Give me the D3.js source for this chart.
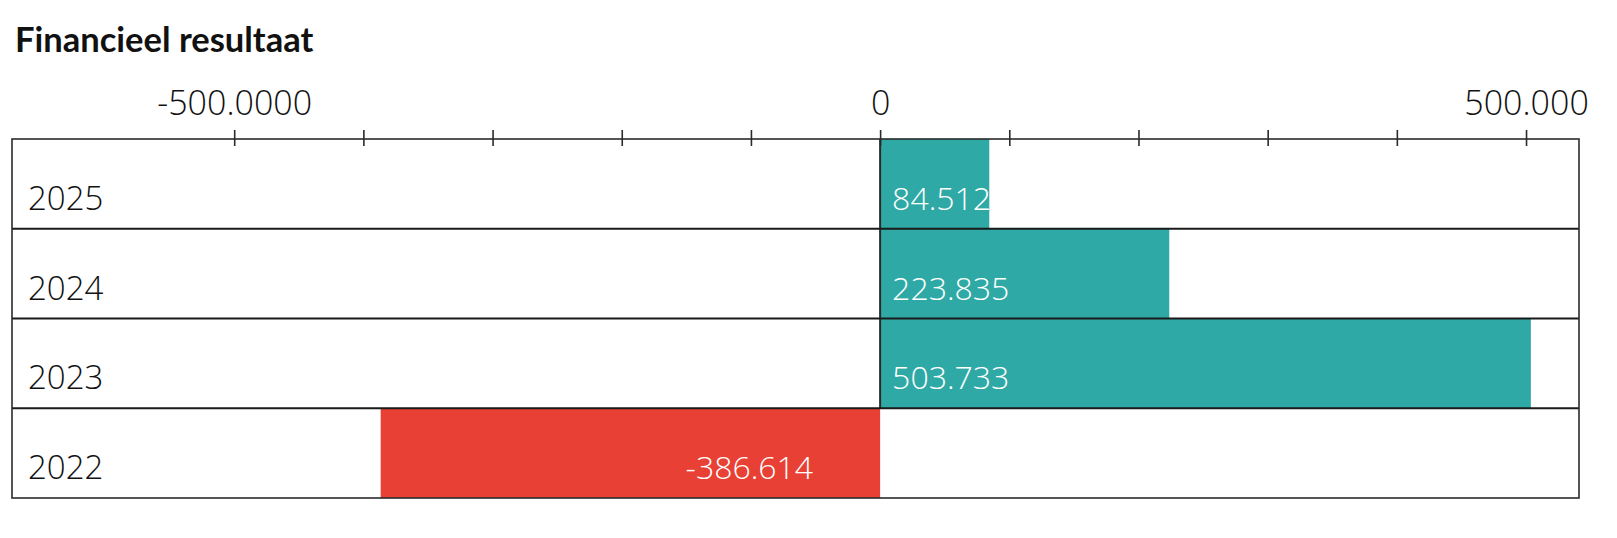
<!DOCTYPE html>
<html>
<head>
<meta charset="utf-8">
<script src="https://cdn.jsdelivr.net/npm/d3@7"></script>
<style>
  body { margin: 0; background: #fff; }
  svg text { font-family: "Open Sans", sans-serif; }
</style>
</head>
<body>
<svg id="chart" width="1617" height="538"></svg>
<script>
// data
const years = ["2025", "2024", "2023", "2022"]
const results = [84512, 223835, 503733, -386614]
const valueLabels = ["84.512", "223.835", "503.733", "-386.614"]
const tickValues = [-500000, -400000, -300000, -200000, -100000, 0, 100000, 200000, 300000, 400000, 500000]
const tickLabels = {"-500000": "-500.0000", "0": "0", "500000": "500.000"}

const teal = "#2ea9a6",
      red = "#e84034",
      ink = "#2b2b2b"

var svg = d3.select("#chart"),
    margin = {top: 139, right: 38, bottom: 40, left: 12},
    width = +svg.attr("width") - margin.left - margin.right,
    height = +svg.attr("height") - margin.top - margin.bottom

svg.append("text")
    .attr("x", 15)
    .attr("y", 52)
    .style("font-family", "Lato, sans-serif")
    .style("font-weight", 700)
    .style("font-size", "34.5px")
    .attr("fill", "#111")
    .text("Financieel resultaat")

var g = svg.append("g").attr("transform", "translate(" + margin.left + "," + margin.top + ")")

var x = d3.scaleLinear()
    .domain([-672000, 541000])
    .range([0, width])

var y = d3.scaleBand()
    .domain(years)
    .range([0, height])
    .padding(0)

// bars
g.selectAll("rect.bar")
    .data(results)
  .enter().append("rect")
    .attr("class", "bar")
    .attr("x", d => x(Math.min(0, d)))
    .attr("y", (d, i) => y(years[i]))
    .attr("width", d => Math.abs(x(d) - x(0)))
    .attr("height", y.bandwidth())
    .attr("fill", d => d < 0 ? red : teal)

// zero line through the positive bars
g.selectAll("line.zero")
    .data(results.filter(d => d >= 0))
  .enter().append("line")
    .attr("class", "zero")
    .attr("x1", x(0)).attr("x2", x(0))
    .attr("y1", (d, i) => y(years[i]))
    .attr("y2", (d, i) => y(years[i]) + y.bandwidth())
    .attr("stroke", ink)
    .attr("stroke-width", 2)

// row separators
g.selectAll("line.row")
    .data(years.slice(1))
  .enter().append("line")
    .attr("class", "row")
    .attr("x1", 0).attr("x2", width)
    .attr("y1", d => y(d)).attr("y2", d => y(d))
    .attr("stroke", "#1a1a1a")
    .attr("stroke-width", 2.2)

// frame
g.append("rect")
    .attr("width", width)
    .attr("height", height)
    .attr("fill", "none")
    .attr("stroke", ink)
    .attr("stroke-width", 1.6)

// year labels
g.selectAll("text.year")
    .data(years)
  .enter().append("text")
    .attr("class", "year")
    .attr("x", 16)
    .attr("y", d => y(d) + y.bandwidth() - 19)
    .style("font-size", "33px")
    .style("font-weight", 300)
    .attr("fill", "#111")
    .text(d => d)

// value labels
g.selectAll("text.value")
    .data(results)
  .enter().append("text")
    .attr("class", "value")
    .attr("x", d => d < 0 ? x(0) - 67 : x(0) + 12)
    .attr("y", (d, i) => y(years[i]) + y.bandwidth() - 19)
    .attr("text-anchor", d => d < 0 ? "end" : "start")
    .style("font-size", "32px")
    .style("font-weight", 300)
    .attr("fill", "#fff")
    .text((d, i) => valueLabels[i])

// top axis
var axis = g.append("g")
    .attr("class", "axis")
    .call(d3.axisTop(x)
      .tickValues(tickValues)
      .tickSize(9)
      .tickPadding(15)
      .tickFormat(d => tickLabels[d] || ""))

axis.select(".domain").remove()
axis.selectAll(".tick line")
    .attr("y1", 7)
    .attr("y2", -9)
    .attr("stroke", ink)
    .attr("stroke-width", 1.6)
axis.selectAll(".tick text")
    .style("font-family", "\"Open Sans\", sans-serif")
    .style("font-size", "34px")
    .style("font-weight", 300)
    .attr("fill", "#111")
</script>
</body>
</html>
